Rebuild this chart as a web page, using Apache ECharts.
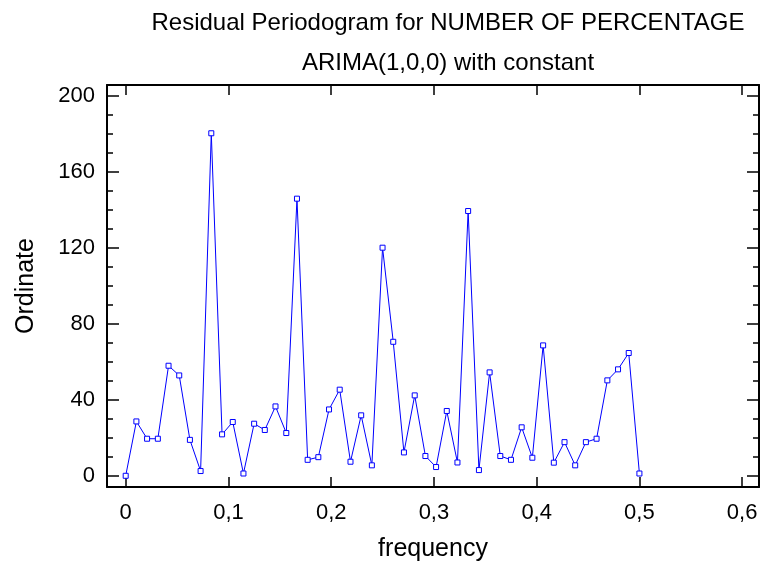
<!DOCTYPE html>
<html>
<head>
<meta charset="utf-8">
<script src="https://cdn.jsdelivr.net/npm/echarts@6/dist/echarts.min.js"></script>
<style>
  html, body { margin: 0; padding: 0; background: #fff; }
  #chart { width: 763px; height: 570px; }
</style>
</head>
<body>
<div id="chart"></div>
<script>
// frequency = k/96
const frequency = [
  0, 0.0104, 0.0208, 0.0313, 0.0417, 0.0521, 0.0625, 0.0729, 0.0833, 0.0938,
  0.1042, 0.1146, 0.125, 0.1354, 0.1458, 0.1563, 0.1667, 0.1771, 0.1875, 0.1979,
  0.2083, 0.2188, 0.2292, 0.2396, 0.25, 0.2604, 0.2708, 0.2813, 0.2917, 0.3021,
  0.3125, 0.3229, 0.3333, 0.3438, 0.3542, 0.3646, 0.375, 0.3854, 0.3958, 0.4063,
  0.4167, 0.4271, 0.4375, 0.4479, 0.4583, 0.4688, 0.4792, 0.4896, 0.5
]
const ordinate = [
  0, 28.6, 19.5, 19.5, 57.9, 52.8, 18.9, 2.5, 180.2, 21.8,
  28.3, 1.2, 27.4, 24.1, 36.5, 22.5, 145.8, 8.4, 9.8, 34.9,
  45.3, 7.4, 31.8, 5.5, 120.0, 70.5, 12.3, 42.3, 10.4, 4.6,
  34.1, 7.0, 139.3, 3.0, 54.4, 10.4, 8.4, 25.5, 9.5, 68.6,
  6.9, 17.7, 5.5, 17.7, 19.5, 50.2, 56.0, 64.6, 1.2
]
const xTicks = [0, 0.1, 0.2, 0.3, 0.4, 0.5, 0.6]
const yTicks = [0, 40, 80, 120, 160, 200]
const yMinorTicks = [10, 20, 30, 50, 60, 70, 90, 100, 110, 130, 140, 150, 170, 180, 190]
const titleText = 'Residual Periodogram for NUMBER OF PERCENTAGE'
const subtitleText = 'ARIMA(1,0,0) with constant'

const font = "'Liberation Sans', Arial, sans-serif"
const black = '#000'

const points = frequency.map((f, i) => [f, ordinate[i]])

function fmtX(v) {
  if (v === 0) return '0'
  return v.toFixed(1).replace('.', ',')
}

const chart = echarts.init(document.getElementById('chart'))

// plot frame and the visible ranges (0..0.6 and 0..200 sit inside it)
const frame = { left: 107, right: 4, top: 85, bottom: 83 }
const xMin = -0.0182, xMax = 0.6164
const yMin = -5.9, yMax = 205.6

function xAxisOf(gridIndex, position, extra) {
  return Object.assign({
    type: 'value',
    gridIndex: gridIndex,
    position: position,
    min: xMin,
    max: xMax,
    axisLine: { show: true, onZero: false, lineStyle: { color: black, width: 2 } },
    axisTick: { show: true, inside: true, length: 10, customValues: xTicks, lineStyle: { color: black, width: 1.5 } },
    axisLabel: { show: false },
    splitLine: { show: false }
  }, extra)
}

function yAxisOf(gridIndex, position, ticks, len, extra) {
  return Object.assign({
    type: 'value',
    gridIndex: gridIndex,
    position: position,
    min: yMin,
    max: yMax,
    axisLine: { show: gridIndex === 0, onZero: false, lineStyle: { color: black, width: 2 } },
    axisTick: { show: true, inside: true, length: len, customValues: ticks, lineStyle: { color: black, width: 1.5 } },
    axisLabel: { show: false },
    splitLine: { show: false }
  }, extra)
}

chart.setOption({
  animation: false,
  backgroundColor: '#fff',
  title: [
    {
      text: titleText,
      left: 443,
      top: 6,
      textAlign: 'center',
      textStyle: { fontFamily: font, fontSize: 24, fontWeight: 'normal', color: black }
    },
    {
      text: subtitleText,
      left: 443,
      top: 46,
      textAlign: 'center',
      textStyle: { fontFamily: font, fontSize: 24, fontWeight: 'normal', color: black }
    }
  ],
  grid: [
    Object.assign({}, frame),
    Object.assign({}, frame)
  ],
  xAxis: [
    xAxisOf(0, 'bottom', {
      name: 'frequency',
      nameLocation: 'middle',
      nameGap: 50,
      nameTextStyle: { fontFamily: font, fontSize: 25, color: black },
      axisLabel: { show: true, margin: 15, customValues: xTicks, formatter: fmtX, fontFamily: font, fontSize: 22, color: black }
    }),
    xAxisOf(0, 'top', {}),
    { type: 'value', gridIndex: 1, min: xMin, max: xMax, show: false }
  ],
  yAxis: [
    yAxisOf(0, 'left', yTicks, 12, {
      name: 'Ordinate',
      nameLocation: 'middle',
      nameGap: 68,
      nameTextStyle: { fontFamily: font, fontSize: 25, color: black },
      axisLabel: { show: true, margin: 12, customValues: yTicks, fontFamily: font, fontSize: 22, color: black }
    }),
    yAxisOf(0, 'right', yTicks, 12, {}),
    yAxisOf(1, 'left', yMinorTicks, 6, {}),
    yAxisOf(1, 'right', yMinorTicks, 6, {})
  ],
  series: [
    {
      type: 'line',
      xAxisIndex: 0,
      yAxisIndex: 0,
      data: points,
      symbol: 'rect',
      symbolSize: 5,
      showAllSymbol: true,
      lineStyle: { color: '#0000ff', width: 1 },
      itemStyle: { color: '#fff', borderColor: '#0000ff', borderWidth: 1 },
      z: 5
    }
  ]
})
</script>
</body>
</html>
